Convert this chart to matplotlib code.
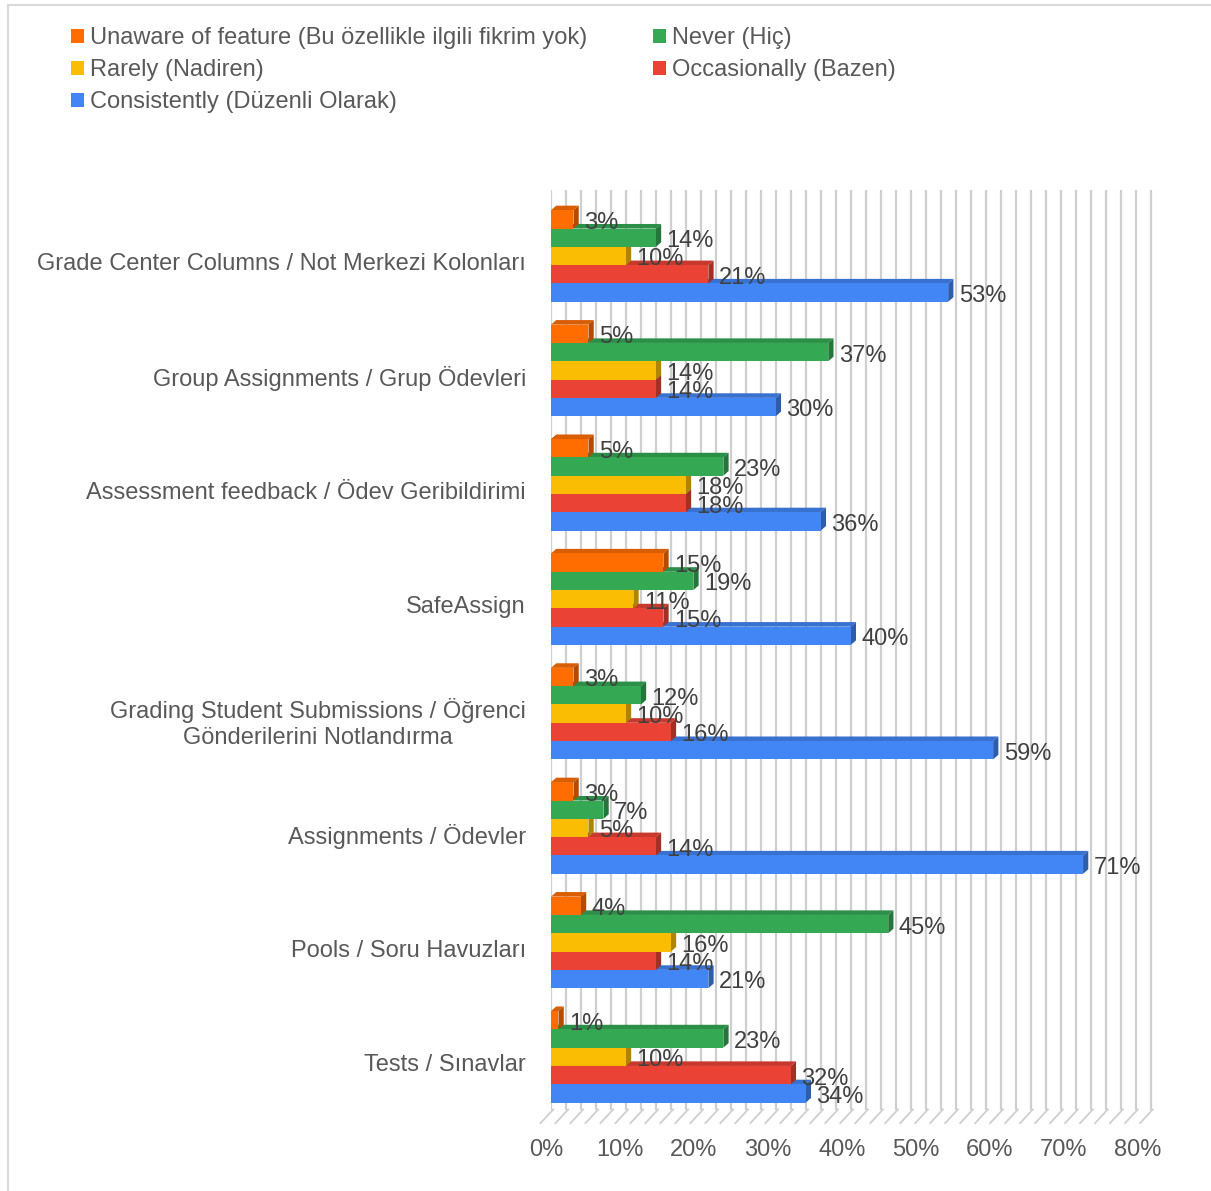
import matplotlib.pyplot as plt
from matplotlib.patches import Polygon, Rectangle, Patch
from matplotlib.transforms import ScaledTranslation

plt.rcParams['font.family'] = ['Liberation Sans', 'DejaVu Sans']

categories = [
    "Grade Center Columns / Not Merkezi Kolonları",
    "Group Assignments / Grup Ödevleri",
    "Assessment feedback / Ödev Geribildirimi",
    "SafeAssign",
    "Grading Student Submissions / Öğrenci\nGönderilerini Notlandırma",
    "Assignments / Ödevler",
    "Pools / Soru Havuzları",
    "Tests / Sınavlar",
]

series_names = [
    "Unaware of feature (Bu özellikle ilgili fikrim yok)",
    "Never (Hiç)",
    "Rarely (Nadiren)",
    "Occasionally (Bazen)",
    "Consistently (Düzenli Olarak)",
]
series_colors = ["#FF6D01", "#34A853", "#FBBC04", "#EA4335", "#4285F4"]

unaware = [3, 5, 5, 15, 3, 3, 4, 1]
never = [14, 37, 23, 19, 12, 7, 45, 23]
rarely = [10, 14, 18, 11, 10, 5, 16, 10]
occasionally = [21, 14, 18, 15, 16, 14, 14, 32]
consistently = [53, 30, 36, 40, 59, 71, 21, 34]

series_values = [unaware, never, rarely, occasionally, consistently]

x_ticks = list(range(0, 81, 10))


def shade(color, f):
    c = plt.matplotlib.colors.to_rgb(color)
    return tuple(v * f for v in c)


fig = plt.figure(figsize=(12.11, 11.91), dpi=100)
ax = fig.add_axes([551 / 1211, 1 - 1110 / 1191, 604 / 1211, 920 / 1191])

bar_h = 0.16
offsets = [-0.32, -0.16, 0.0, 0.16, 0.32]
dx, dy = 0.7, -0.04   # depth of the fake 3D extrusion

# back-wall gridlines every 2%
for g in range(0, 81, 2):
    ax.axvline(g, color="#cfcfcf", lw=1.6, zorder=0)

# floor lines below the plot
for g in range(0, 81, 2):
    ax.plot([g + 0.3, g - 1.4], [7.46, 7.58], color="#cfcfcf", lw=1.3,
            clip_on=False, zorder=0)

# bars drawn bottom-up so each bar hides the top face of the one below
for i in range(len(categories)):
    for s in reversed(range(len(series_values))):
        v = series_values[s][i]
        col = series_colors[s]
        y0 = i + offsets[s] + bar_h / 2   # bottom edge (inverted axis)
        y1 = i + offsets[s] - bar_h / 2   # top edge
        ax.add_patch(Polygon([(0, y1), (v, y1), (v + dx, y1 + dy), (dx, y1 + dy)],
                             closed=True, fc=shade(col, 0.85), ec="none", zorder=2))
        ax.add_patch(Polygon([(v, y0), (v, y1), (v + dx, y1 + dy), (v + dx, y0 + dy)],
                             closed=True, fc=shade(col, 0.7), ec="none", zorder=2))
        ax.add_patch(Rectangle((0, y1), v, bar_h, fc=col, ec="none", zorder=2))
        ax.text(v + 1.4, i + offsets[s] + 0.03, f"{v}%", ha="left", va="center",
                fontsize=17, color="#404040", zorder=5)

ax.set_xlim(0, 80.6)
ax.set_ylim(7.465, -0.577)

ax.set_xticks(x_ticks)
ax.set_xticklabels([f"{t}%" for t in x_ticks], fontsize=17, color="#595959")
ax.tick_params(axis="x", length=0, pad=21)
# the front edge of the floor is a little narrower than the back wall
for t, lab in zip(x_ticks, ax.get_xticklabels()):
    px = -5 - 0.1 * t
    lab.set_transform(lab.get_transform() + ScaledTranslation(px / 100, 0, fig.dpi_scale_trans))

ax.set_yticks([i + 0.05 for i in range(len(categories))])
ax.set_yticklabels(categories, fontsize=17, color="#595959", multialignment="center")
ax.tick_params(axis="y", length=0, pad=18)

for sp in ax.spines.values():
    sp.set_visible(False)

# outer chart border
fig.patches.append(Rectangle((8 / 1211, -0.01), 1.1, 1 - 5 / 1191 + 0.01,
                             transform=fig.transFigure, fill=False,
                             ec="#d9d9d9", lw=1.5))

order = [0, 2, 4, 1, 3]
handles = [Patch(fc=series_colors[k], ec="none") for k in order]
fig.legend(handles, [series_names[k] for k in order], ncol=2,
           loc="upper left", bbox_to_anchor=(50 / 1211, 1 - 6 / 1191),
           frameon=False, fontsize=17, labelcolor="#595959",
           handlelength=0.55, handleheight=0.55, handletextpad=0.25,
           columnspacing=2.8, labelspacing=0.42)

fig.savefig("out.png", dpi=100)
